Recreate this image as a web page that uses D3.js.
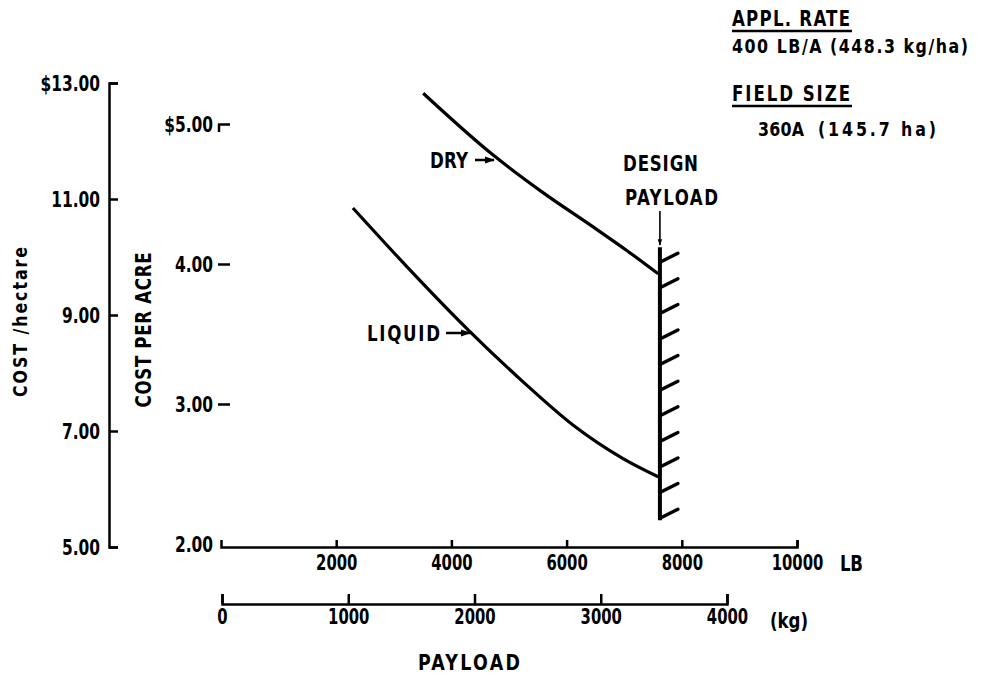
<!DOCTYPE html>
<html>
<head>
<meta charset="utf-8">
<script src="https://cdn.jsdelivr.net/npm/d3@7"></script>
<style>
  body { margin: 0; background: #fff; }
  svg text {
    font-family: "DejaVu Sans Condensed", "DejaVu Sans", sans-serif;
    font-weight: bold;
    fill: #000;
  }
  .axis path, .axis line { stroke: #000; stroke-width: 2.5px; fill: none; }
</style>
</head>
<body>
<script>
var width = 984;
var height = 675;

// payload (lb) vs cost per acre ($)
var dryPayload = [3510, 4720, 5590, 6460, 7050, 7590];
var dryCost = [5.22, 4.78, 4.51, 4.265, 4.095, 3.93];
var liquidPayload = [2290, 3230, 4290, 5240, 6110, 6980, 7590];
var liquidCost = [4.40, 3.98, 3.53, 3.16, 2.85, 2.61, 2.48];

var designPayload = 7620;
var designCost = [4.12, 2.17];

var haTicks = [13, 11, 9, 7, 5];
var acreTicks = [5, 4, 3, 2];
var lbTicks = [2000, 4000, 6000, 8000, 10000];
var kgTicks = [0, 1000, 2000, 3000, 4000];

var NARROW = 0.88;   // the original lettering is tall and narrow

var svg = d3.select("body").append("svg")
    .attr("width", width)
    .attr("height", height);

// squeeze axis tick glyphs horizontally
function squeeze(sel, k) {
    sel.each(function() {
        var t = d3.select(this);
        var x = +t.attr("x") || 0, y = +t.attr("y") || 0;
        t.attr("x", null).attr("y", null)
            .attr("transform", "translate(" + x + "," + y + ") scale(" + k + ",1)");
    });
}

// narrow label spread out to a given width (letter spacing only)
function label(x, y, txt, len, size, rot, anchor) {
    return svg.append("text")
        .attr("transform", "translate(" + x + "," + y + ")" + (rot ? " rotate(" + rot + ")" : "") + " scale(" + NARROW + ",1)")
        .attr("text-anchor", anchor || "start")
        .attr("textLength", len / NARROW)
        .attr("lengthAdjust", "spacing")
        .style("font-size", size + "px")
        .text(txt);
}

// scales
var yHa = d3.scaleLinear().domain([5, 13]).range([547, 83]);
var yAcre = d3.scaleLinear().domain([2, 5]).range([544, 124]);
var xLb = d3.scaleLinear().domain([0, 10000]).range([221, 797]);
var xKg = d3.scaleLinear().domain([0, 4000]).range([222, 727]);

// cost / hectare axis
var haAxis = d3.axisLeft(yHa)
    .tickValues(haTicks)
    .tickSizeInner(-9)
    .tickSizeOuter(-9)
    .tickPadding(9)
    .tickFormat(function(d) { return (d == 13 ? "$" : "") + d3.format(".2f")(d); });

svg.append("g")
    .attr("class", "axis")
    .attr("transform", "translate(109,0)")
    .call(haAxis)
    .selectAll("text").style("font-size", "22px").call(squeeze, 0.78);

// cost per acre axis (ticks only)
var acreAxis = d3.axisLeft(yAcre)
    .tickValues(acreTicks)
    .tickSizeInner(-12)
    .tickSizeOuter(0)
    .tickPadding(5)
    .tickFormat(function(d) { return (d == 5 ? "$" : "") + d3.format(".2f")(d); });

var acreG = svg.append("g")
    .attr("class", "axis")
    .attr("transform", "translate(218,0)")
    .call(acreAxis);
acreG.select(".domain").remove();
acreG.selectAll("text").style("font-size", "22px").call(squeeze, 0.78);
acreG.selectAll(".tick").filter(function(d) { return d == 2; }).select("line").remove();
acreG.append("line")
    .attr("x1", 1).attr("x2", 1)
    .attr("y1", yAcre(5)).attr("y2", yAcre(5) + 8);

// LB axis
var lbAxis = d3.axisBottom(xLb)
    .tickValues(lbTicks)
    .tickSizeInner(-7)
    .tickSizeOuter(-7)
    .tickPadding(7)
    .tickFormat(d3.format("d"));

svg.append("g")
    .attr("class", "axis")
    .attr("transform", "translate(0,547)")
    .call(lbAxis)
    .selectAll("text").style("font-size", "22px").call(squeeze, 0.75);

// kg axis
var kgAxis = d3.axisBottom(xKg)
    .tickValues(kgTicks)
    .tickSizeInner(-10)
    .tickSizeOuter(-10)
    .tickPadding(4)
    .tickFormat(d3.format("d"));

svg.append("g")
    .attr("class", "axis")
    .attr("transform", "translate(0,604)")
    .call(kgAxis)
    .selectAll("text").style("font-size", "22px").call(squeeze, 0.75);

// axis titles
label(27, 322, "COST /hectare", 150, 20, -90, "middle");
label(151, 330, "COST PER ACRE", 155, 21, -90, "middle");
label(840, 571, "LB", 23, 21);
label(770, 628, "(kg)", 38, 21);
label(418, 670, "PAYLOAD", 102, 22);

// curves
var line = d3.line()
    .x(function(d) { return xLb(d[0]); })
    .y(function(d) { return yAcre(d[1]); })
    .curve(d3.curveMonotoneX);

var series = [
    d3.zip(dryPayload, dryCost),
    d3.zip(liquidPayload, liquidCost)
];

svg.selectAll(".curve")
    .data(series)
    .enter()
    .append("path")
    .attr("class", "curve")
    .attr("d", line)
    .attr("fill", "none")
    .attr("stroke", "#000")
    .attr("stroke-width", 3.2);

// design payload limit with hatching
var xd = xLb(designPayload);
svg.append("line")
    .attr("x1", xd).attr("x2", xd)
    .attr("y1", yAcre(designCost[0])).attr("y2", yAcre(designCost[1]))
    .attr("stroke", "#000")
    .attr("stroke-width", 4);

var hatchY = d3.range(11).map(function(i) {
    return yAcre(designCost[0]) + 15 + i * (yAcre(designCost[1]) - yAcre(designCost[0]) - 17) / 10;
});

svg.selectAll(".hatch")
    .data(hatchY)
    .enter()
    .append("line")
    .attr("class", "hatch")
    .attr("x1", xd).attr("y1", function(d) { return d; })
    .attr("x2", xd + 18).attr("y2", function(d) { return d - 9; })
    .attr("stroke", "#000")
    .attr("stroke-width", 3.4)
    .attr("stroke-linecap", "round");

// arrowheads
var defs = svg.append("defs");
defs.append("marker")
    .attr("id", "arrow")
    .attr("viewBox", "0 0 10 10")
    .attr("refX", 9).attr("refY", 5)
    .attr("markerWidth", 5).attr("markerHeight", 4)
    .attr("orient", "auto")
    .append("path")
    .attr("d", "M0,1.5 L10,5 L0,8.5 Z")
    .attr("fill", "#000");

function arrow(x1, y1, x2, y2, w) {
    svg.append("line")
        .attr("x1", x1).attr("y1", y1)
        .attr("x2", x2).attr("y2", y2)
        .attr("stroke", "#000")
        .attr("stroke-width", w)
        .attr("marker-end", "url(#arrow)");
}

// curve labels
label(430, 168, "DRY", 38, 21);
arrow(475, 160, 494, 160, 2.5);

label(367, 341, "LIQUID", 73, 21);
arrow(446, 333, 470, 333, 2.5);

label(623, 171, "DESIGN", 75, 21);
label(625, 205, "PAYLOAD", 93, 21);
arrow(xd, 211, xd, 245, 1.6);

// top-right notes
label(732, 26, "APPL. RATE", 118, 21);
svg.append("line").attr("x1", 732).attr("x2", 852).attr("y1", 31).attr("y2", 31)
    .attr("stroke", "#000").attr("stroke-width", 2.5);
label(732, 53, "400 LB/A  (448.3 kg/ha)", 236, 20);
label(732, 101, "FIELD SIZE", 118, 21);
svg.append("line").attr("x1", 732).attr("x2", 852).attr("y1", 106).attr("y2", 106)
    .attr("stroke", "#000").attr("stroke-width", 2.5);
label(758, 136, "360A", 46, 20);
label(818, 136, "(145.7  ha)", 118, 20);
</script>
</body>
</html>
